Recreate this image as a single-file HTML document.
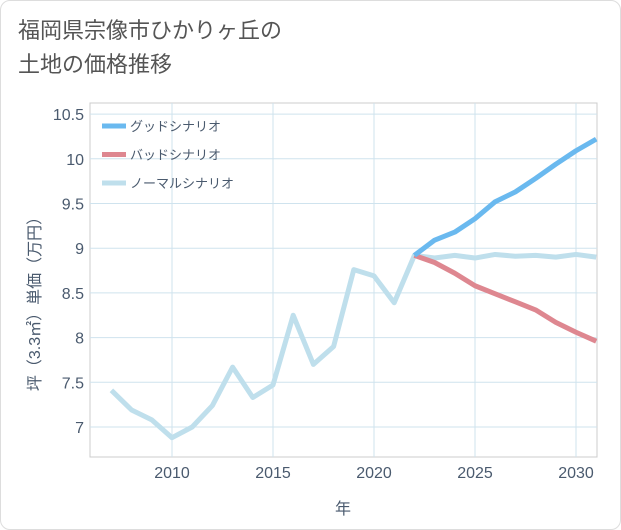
<!DOCTYPE html>
<html><head><meta charset="utf-8"><style>
body{margin:0;background:#fff;font-family:"Liberation Sans","Noto Sans CJK JP",sans-serif;}
#card{position:absolute;left:0;top:0;width:619px;height:528px;border:1px solid #ddd;border-radius:10px;background:#fff;}
#title{position:absolute;left:18px;top:14px;font-size:22px;line-height:34px;color:#555;font-family:"Liberation Sans","Noto Sans CJK JP",sans-serif;}
svg{position:absolute;left:0;top:0}
svg text{font-family:"Liberation Sans","Noto Sans CJK JP",sans-serif;}
</style></head><body>
<div id="card"></div>
<div id="title">福岡県宗像市ひかりヶ丘の<br>土地の価格推移</div>
<svg id="chart" width="621" height="530"></svg>
<script>
const years=[2007,2008,2009,2010,2011,2012,2013,2014,2015,2016,2017,2018,2019,2020,2021,2022,2023,2024,2025,2026,2027,2028,2029,2030,2031];
const normalVals=[7.41,7.19,7.08,6.88,7.0,7.24,7.67,7.33,7.47,8.25,7.70,7.90,8.76,8.69,8.39,8.92,8.89,8.92,8.89,8.93,8.91,8.92,8.90,8.93,8.90];
const goodYears=[2022,2023,2024,2025,2026,2027,2028,2029,2030,2031];
const goodVals=[8.92,9.09,9.18,9.33,9.52,9.63,9.78,9.94,10.09,10.22];
const badVals=[8.92,8.84,8.72,8.58,8.49,8.40,8.31,8.17,8.06,7.96];
const xTicks=[2010,2015,2020,2025,2030];
const yTicks=[7,7.5,8,8.5,9,9.5,10,10.5];
const yLabels=["7","7.5","8","8.5","9","9.5","10","10.5"];
const legendNames=["グッドシナリオ","バッドシナリオ","ノーマルシナリオ"];
const L=90,R=597,T=103,B=457;
const x=y=>172+(y-2010)*20.2;
const yy=v=>427-(v-7)*89.4;
const svg=document.getElementById('chart');const NS='http://www.w3.org/2000/svg';
function mk(t,a,p){const e=document.createElementNS(NS,t);for(const k in a)e.setAttribute(k,a[k]);(p||svg).appendChild(e);return e;}
const frame=mk('rect',{x:L,y:T,width:R-L,height:B-T,fill:'none',stroke:'#ccc'});


xTicks.forEach(t=>{const g=mk('line',{x1:x(t),x2:x(t),y1:T,y2:B,stroke:'#cfe3ee'});


const tx=mk('text',{x:x(t),y:478,'text-anchor':'middle','font-size':16,fill:'#4a5a6e'});tx.textContent=t;

});
yTicks.forEach((t,i)=>{const g=mk('line',{x1:L,x2:R,y1:yy(t),y2:yy(t),stroke:'#cfe3ee'});


const tx=mk('text',{x:84,y:yy(t)+6,'text-anchor':'end','font-size':16,fill:'#4a5a6e'});tx.textContent=yLabels[i];

});
const xt=mk('text',{x:343,y:514,'text-anchor':'middle','font-size':16,fill:'#4a5a6e'});xt.textContent='年';


const yt=mk('text',{x:0,y:0,'text-anchor':'middle','font-size':16,fill:'#4a5a6e',transform:'translate(40,300) rotate(-90)'});yt.textContent='坪（3.3㎡）単価（万円）';


function line(xs,vs,c,n){const p=mk('polyline',{points:xs.map((v,i)=>x(v)+','+yy(vs[i])).join(' '),fill:'none',stroke:c,'stroke-width':5,'stroke-linejoin':'round'});

}
line(years,normalVals,'#bfdfec','normal-series-line');
line(goodYears,badVals,'#de8790','bad-series-line');
line(goodYears,goodVals,'#6ab9ef','good-series-line');
const lc=['#6ab9ef','#de8790','#bfdfec'];
legendNames.forEach((n,i)=>{const ly=126+i*28.5;
const l=mk('line',{x1:102,x2:126,y1:ly,y2:ly,stroke:lc[i],'stroke-width':5});


const t=mk('text',{x:130,y:ly+5,'font-size':13,fill:'#4a5a6e'});t.textContent=n;

});
</script></body></html>
